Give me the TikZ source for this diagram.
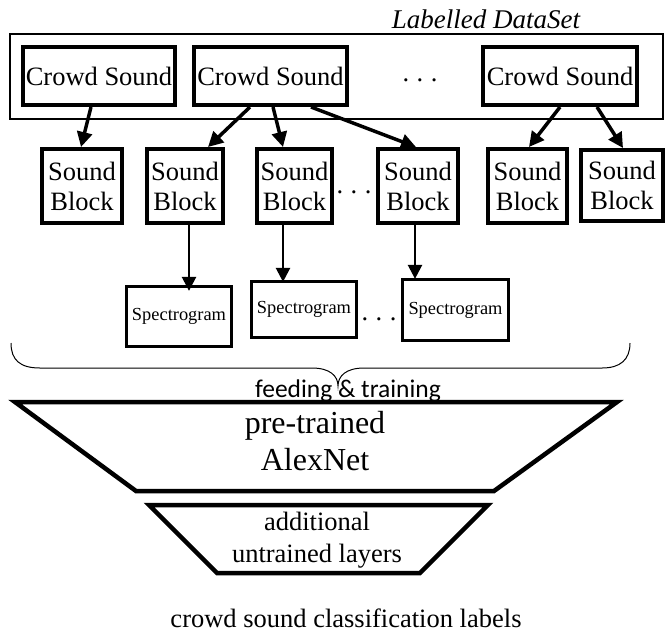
\documentclass[tikz,border=0pt]{standalone}
\usepackage{fontspec}
\setmainfont{Liberation Serif}
\newfontfamily\carlito{Carlito}
\usetikzlibrary{arrows.meta}
\newcommand{\mydots}{.\hspace{7.5pt}.\hspace{7.5pt}.}
\tikzset{
  cs/.style={draw, line width=4pt, inner sep=0pt, minimum height=58pt, font=\fontsize{26.5}{30}\selectfont},
  blk/.style={draw, line width=4pt, inner sep=0pt, minimum height=74pt, align=center, font=\fontsize{26.5}{30}\selectfont},
  spec/.style={draw, line width=3.3pt, inner sep=0pt, font=\fontsize{18.4}{22}\selectfont},
  bigarr/.style={line width=3.5pt, -{Triangle[length=15pt,width=15pt]}},
  smallarr/.style={line width=2.5pt, -{Triangle[length=14pt,width=14pt]}},
  dotsn/.style={font=\fontsize{26.5}{30}\selectfont, inner sep=0pt},
  txt/.style={font=\fontsize{26.5}{30}\selectfont, inner sep=0pt, anchor=base},
  bigtxt/.style={font=\fontsize{32}{37}\selectfont, inner sep=0pt, anchor=base},
  trap/.style={line width=4.5pt, line join=miter},
}
\begin{document}
\begin{tikzpicture}[x=1pt,y=-1pt]
\useasboundingbox (0,0) rectangle (668,633);
\fill[white] (0,0) rectangle (668,633);

% dataset frame
\node[draw, line width=1.7pt, inner sep=0pt, minimum width=653.3pt, minimum height=85.3pt] (dataset) at (336.5,76.5) {};
\node[txt, font=\itshape\fontsize{27}{30}\selectfont] (lbl) at (486,28) {Labelled DataSet};

% crowd sound boxes
\node[cs, minimum width=152pt] (cs1) at (99,76) {Crowd Sound};
\node[cs, minimum width=153pt] (cs2) at (270.5,76) {Crowd Sound};
\node[cs, minimum width=154pt] (cs3) at (560,76) {Crowd Sound};
\node[dotsn] (dots1) at (420,80) {\mydots};

% sound blocks
\node[blk, minimum width=80pt] (b1) at (82,186) {Sound\\Block};
\node[blk, minimum width=76pt] (b2) at (185,186) {Sound\\Block};
\node[blk, minimum width=75pt] (b3) at (294.5,186) {Sound\\Block};
\node[blk, minimum width=80pt] (b4) at (418,186) {Sound\\Block};
\node[blk, minimum width=79pt] (b5) at (527.5,186) {Sound\\Block};
\node[blk, minimum width=82pt, minimum height=71pt] (b6) at (622,185.5) {Sound\\Block};
\node[dotsn] (dots2) at (354,192) {\mydots};

% spectrograms
\node[spec, minimum width=105pt, minimum height=60pt] (s1) at (179,316.5) {Spectrogram};
\node[spec, minimum width=105pt, minimum height=56pt] (s2) at (304,309.5) {Spectrogram};
\node[spec, minimum width=106pt, minimum height=61pt] (s3) at (455.5,310) {Spectrogram};
\node[dotsn] (dots3) at (379,319) {\mydots};

% arrows crowd sound -> blocks
\draw[bigarr] ([xshift=-8pt]cs1.south) -- ([xshift=-1pt]b1.north);
\draw[bigarr] ([xshift=-20.5pt]cs2.south) -- ([xshift=23pt]b2.north);
\draw[bigarr] ([xshift=2.5pt]cs2.south) -- ([xshift=-11.5pt]b3.north);
\draw[bigarr] ([xshift=40.5pt]cs2.south) -- ([xshift=-2pt]b4.north);
\draw[bigarr] ([xshift=0pt]cs3.south) -- ([xshift=1.5pt]b5.north);
\draw[bigarr] ([xshift=37pt]cs3.south) -- ([xshift=1pt]b6.north);

% arrows blocks -> spectrograms
\draw[smallarr] ([xshift=4pt]b2.south) -- ([xshift=10pt,yshift=-6pt]s1.north);
\draw[smallarr] ([xshift=-11.5pt]b3.south) -- ([xshift=-21pt,yshift=-2pt]s2.north);
\draw[smallarr] ([xshift=-3pt]b4.south) -- ([xshift=-40.5pt,yshift=-1pt]s3.north);

% brace
\coordinate (braceL) at (11,343);
\coordinate (braceR) at (630,343);
\coordinate (braceTip) at (338,386);
\draw[line width=1pt] (braceL) .. controls (11,360) and (20,368) .. (40,368) -- (312,368)
  .. controls (330,368) and (338,376) .. (braceTip)
  .. controls (338,376) and (346,368) .. (364,368) -- (602,368)
  .. controls (620,368) and (630,360) .. (braceR);
\node[inner sep=0pt, anchor=base, font=\carlito\fontsize{25.5}{28}\selectfont] (feed) at (348,397) {feeding \& training};

% AlexNet trapezoid
\draw[trap] (15,402) -- (617,402) -- (494,491) -- (136,491) -- cycle;
\node[bigtxt] (alex1) at (315,433) {pre-trained};
\node[bigtxt] (alex2) at (315,470) {AlexNet};

% additional layers trapezoid
\draw[trap] (149,505) -- (488,505) -- (420,573) -- (217,573) -- cycle;
\node[txt] (add1) at (317,530) {additional};
\node[txt] (add2) at (317,562) {untrained layers};

% output label
\node[txt] (out) at (346,627) {crowd sound classification labels};
\end{tikzpicture}
\end{document}
